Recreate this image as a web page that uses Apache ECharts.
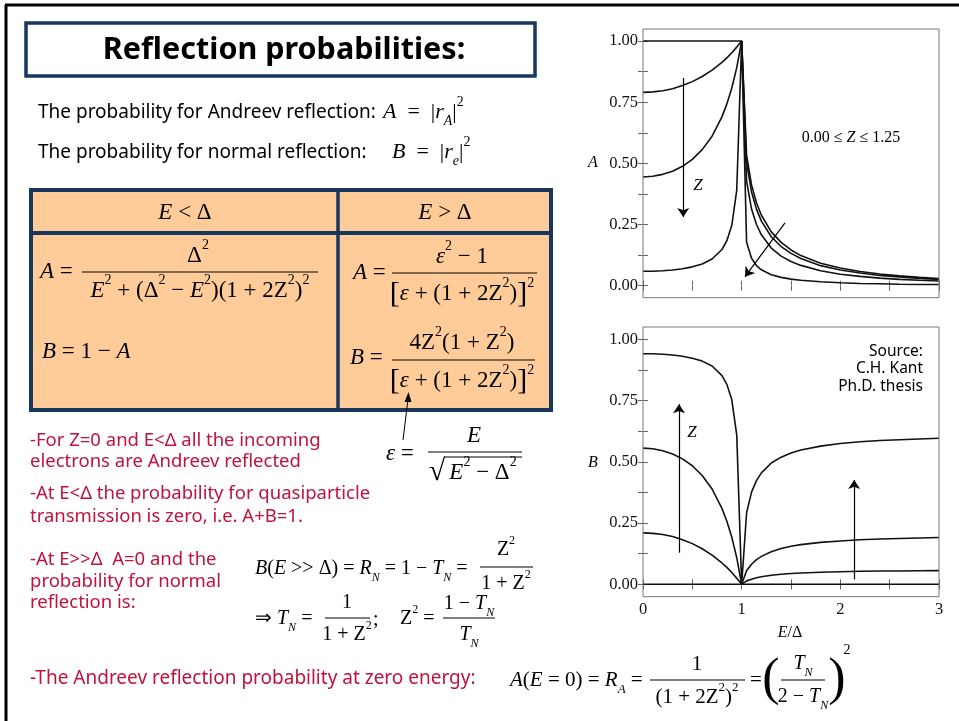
<!DOCTYPE html>
<html><head><meta charset="utf-8">
<script src="https://cdn.jsdelivr.net/npm/echarts@6/dist/echarts.min.js"></script>
<style>html,body{margin:0;padding:0;background:#fff}#c{width:959px;height:721px}</style>
</head><body><div id="c"></div>
<script>
// ---- data ----
const E_RATIO = [0,0.1,0.2,0.3,0.4,0.5,0.6,0.7,0.8,0.85,0.9,0.95,1.0,1.05,1.1,1.15,1.2,1.3,1.4,1.5,1.6,1.8,2.0,2.2,2.4,2.6,2.8,3.0];
const Z_VALUES = ['0.00','0.25','0.50','1.25'];
const A_Z000 = [1,1,1,1,1,1,1,1,1,1,1,1,1,0.533,0.412,0.339,0.288,0.220,0.177,0.146,0.123,0.092,0.072,0.058,0.048,0.040,0.034,0.029];
const A_Z025 = [0.790,0.792,0.797,0.805,0.818,0.834,0.855,0.881,0.913,0.931,0.952,0.975,1,0.503,0.383,0.313,0.264,0.200,0.160,0.132,0.111,0.082,0.064,0.052,0.042,0.036,0.030,0.026];
const A_Z050 = [0.444,0.447,0.455,0.468,0.488,0.516,0.556,0.611,0.690,0.743,0.808,0.891,1,0.427,0.313,0.250,0.208,0.154,0.121,0.099,0.083,0.061,0.047,0.038,0.031,0.026,0.022,0.019];
const A_Z125 = [0.059,0.059,0.061,0.064,0.069,0.077,0.089,0.109,0.148,0.184,0.247,0.390,1,0.178,0.112,0.082,0.065,0.045,0.034,0.027,0.022,0.016,0.012,0.009,0.008,0.006,0.005,0.005];
const B_Z000 = [0,0,0,0,0,0,0,0,0,0,0,0,0,0,0,0,0,0,0,0,0,0,0,0,0,0,0,0];
const B_Z025 = [0.210,0.208,0.203,0.195,0.182,0.166,0.145,0.119,0.087,0.069,0.048,0.025,0,0.014,0.021,0.027,0.031,0.037,0.041,0.044,0.046,0.049,0.051,0.053,0.054,0.054,0.055,0.056];
const B_Z050 = [0.556,0.553,0.545,0.532,0.512,0.484,0.444,0.389,0.310,0.257,0.192,0.109,0,0.055,0.082,0.101,0.114,0.133,0.146,0.155,0.162,0.171,0.177,0.182,0.185,0.187,0.189,0.191];
const B_Z125 = [0.941,0.941,0.939,0.936,0.931,0.923,0.911,0.891,0.852,0.816,0.753,0.610,0,0.292,0.376,0.423,0.455,0.495,0.519,0.536,0.548,0.564,0.575,0.582,0.587,0.590,0.593,0.596];
const X_TICKS = [0,1,2,3];
const Y_TICKS = [0,0.25,0.5,0.75,1];
// annotation arrows (data coordinates)
const ARROWS_A = [[[0.408,0.849],[0.408,0.281]],[[1.439,0.257],[1.034,0.037]]];
const ARROWS_B = [[[0.365,0.129],[0.365,0.735]],[[2.14,0.02],[2.14,0.426]]];

const SERIF = "'Liberation Serif','Times New Roman',serif";
const SANS = "'Noto Sans','DejaVu Sans',sans-serif";
const RED = '#C0123C';
const NAVY = '#17375E';

function rich(s){
  const lh = Math.round(s*1.5), sm = Math.round(s*0.62);
  return {
    i:{fontFamily:SERIF,fontSize:s,fontStyle:'italic',lineHeight:lh,fill:'#000'},
    r:{fontFamily:SERIF,fontSize:s,lineHeight:lh,fill:'#000'},
    p:{fontFamily:SERIF,fontSize:sm,lineHeight:Math.round(sm*1.55),verticalAlign:'top',fill:'#000'},
    b:{fontFamily:SERIF,fontSize:sm,fontStyle:'italic',lineHeight:Math.round(sm*1.6),verticalAlign:'bottom',fill:'#000'},
    k:{fontFamily:SERIF,fontSize:Math.round(s*1.3),lineHeight:lh,fill:'#000'}
  };
}
const G = [];
function txt(x,y,text,o){ G.push({type:'text',x:x,y:y,z:10,style:Object.assign({legacy:false,text:text,fill:'#000',align:'left',verticalAlign:'middle',fontFamily:SANS,fontSize:16},o||{})}); }
function mt(x,y,str,size,align){ G.push({type:'text',x:x,y:y,z:10,style:{legacy:false,text:str,rich:rich(size),align:align||'left',verticalAlign:'middle',fontFamily:SERIF,fontSize:size,fill:'#000'}}); }
function ln(x1,y1,x2,y2,w,c){ G.push({type:'line',z:10,shape:{x1:x1,y1:y1,x2:x2,y2:y2},style:{stroke:c||'#000',lineWidth:w||1}}); }
function rect(x,y,w,h,st){ G.push({type:'rect',z:5,shape:{x:x,y:y,width:w,height:h},style:st}); }

// slide border
ln(5,5,959,5,3); ln(6,5,6,721,3);
// title
rect(26,23,509,53,{fill:'#fff',stroke:NAVY,lineWidth:3.5});
txt(284,50,'Reflection probabilities:',{align:'center',fontSize:30.5,fontWeight:'bold'});
// definitions
txt(38,113,'The probability for Andreev reflection:',{fontSize:19});
mt(383,112,'{i|A}{r|  =  |}{i|r}{b|A}{r||}{p|2}',22);
txt(38,153,'The probability for normal reflection:',{fontSize:19});
mt(392,152,'{i|B}{r|  =  |}{i|r}{b|e}{r||}{p|2}',22);
// table
rect(31,190,520,220,{fill:'#FFCC99',stroke:NAVY,lineWidth:4});
G.push({type:'line',z:6,shape:{x1:31,y1:233,x2:551,y2:233},style:{stroke:NAVY,lineWidth:4}});
G.push({type:'line',z:6,shape:{x1:338,y1:190,x2:338,y2:410},style:{stroke:NAVY,lineWidth:3.5}});
mt(185,213,'{i|E}{r| < Δ}',23,'center');
mt(445,213,'{i|E}{r| > Δ}',23,'center');
mt(40,272,'{i|A}{r| =}',23);
ln(82,272,318,272,1);
mt(198,256,'{r|Δ}{p|2}',23,'center');
mt(200,291,'{i|E}{p|2}{r| + (Δ}{p|2}{r| − }{i|E}{p|2}{r|)(1 + 2Z}{p|2}{r|)}{p|2}',23,'center');
mt(42,352,'{i|B}{r| = 1 − }{i|A}',23);
mt(353,273,'{i|A}{r| =}',23);
ln(392,273,537,273,1);
mt(462,257,'{i|ε}{p|2}{r| − 1}',23,'center');
mt(462,294,'{k|[}{i|ε}{r| + (1 + 2Z}{p|2}{r|)}{k|]}{p|2}',23,'center');
mt(350,358,'{i|B}{r| =}',23);
ln(392,360,535,360,1);
mt(462,343,'{r|4Z}{p|2}{r|(1 + Z}{p|2}{r|)}',23,'center');
mt(462,381,'{k|[}{i|ε}{r| + (1 + 2Z}{p|2}{r|)}{k|]}{p|2}',23,'center');
// epsilon definition and arrow
ln(403,440,408,399,1);
G.push({type:'polygon',z:10,shape:{points:[[408.5,392],[404.5,402],[411.5,402]]},style:{fill:'#000'}});
mt(386,454,'{i|ε}{r| =}',23);
ln(428,452,522,452,1);
mt(474,436,'{i|E}',23,'center');
mt(437,472,'{k|√}',23,'center');
ln(445,457,522,457,1);
mt(483,473,'{i|E}{p|2}{r| − Δ}{p|2}',23,'center');
// red remarks
const red = {fill:RED,fontSize:18.5};
txt(30,441,'-For Z=0 and E<Δ all the incoming',red);
txt(30,462,'electrons are Andreev reflected',red);
txt(30,494,'-At E<Δ the probability for quasiparticle',red);
txt(30,517,'transmission is zero, i.e. A+B=1.',red);
txt(30,560,'-At E>>Δ  A=0 and the',red);
txt(30,582,'probability for normal',red);
txt(30,603,'reflection is:',red);
txt(30,679,'-The Andreev reflection probability at zero energy:',{fill:RED,fontSize:19});
// B(E>>Δ) formulas
mt(255,569,'{i|B}{r|(}{i|E}{r| >> Δ) = }{i|R}{b|N}{r| = 1 − }{i|T}{b|N}{r| =}',20);
ln(480,567,533,567,1);
mt(506,550,'{r|Z}{p|2}',20,'center');
mt(506,584,'{r|1 + Z}{p|2}',20,'center');
mt(255,619,'{r|⇒ }{i|T}{b|N}{r| =}',20);
ln(325,618,370,618,1);
mt(347,603,'{r|1}',20,'center');
mt(347,635,'{r|1 + Z}{p|2}',20,'center');
mt(373,620,'{r|;}',20);
mt(400,619,'{r|Z}{p|2}{r| =}',20);
ln(443,618,495,618,1);
mt(469,604,'{r|1 − }{i|T}{b|N}',20,'center');
mt(469,635,'{i|T}{b|N}',20,'center');
// A(E=0)
mt(510,680,'{i|A}{r|(}{i|E}{r| = 0) = }{i|R}{b|A}{r| =}',21);
ln(650,680,745,680,1);
mt(697,664,'{r|1}',21,'center');
mt(697,697,'{r|(1 + 2Z}{p|2}{r|)}{p|2}',21,'center');
mt(750,680,'{r|=}',21);
txt(771,680,'(',{fontFamily:SERIF,fontSize:52,align:'center'});
ln(781,680,825,680,1);
mt(803,664,'{i|T}{b|N}',20,'center');
mt(803,697,'{r|2 − }{i|T}{b|N}',20,'center');
txt(837,680,')',{fontFamily:SERIF,fontSize:52,align:'center'});
txt(847,650,'2',{fontFamily:SERIF,fontSize:14,align:'center'});
// chart frames & annotations
rect(643,29,296,268.7,{fill:'none',stroke:'#777',lineWidth:1});
rect(643,327,296,269.7,{fill:'none',stroke:'#777',lineWidth:1});
mt(851,138,'{r|0.00 ≤ }{i|Z}{r| ≤ 1.25}',16,'center');
mt(698,186,'{i|Z}',17,'center');
mt(692,433,'{i|Z}',17,'center');
txt(923,352,'Source:',{align:'right',fontSize:15.5});
txt(923,369,'C.H. Kant',{align:'right',fontSize:15.5});
txt(923,387,'Ph.D. thesis',{align:'right',fontSize:15.5});
mt(593,163,'{i|A}',16,'center');
mt(593,463,'{i|B}',16,'center');
mt(790,633,'{i|E}{r|/Δ}',16,'center');

const tickStyle = {inside:true,length:5,lineStyle:{color:'#666',width:1}};
function xAx(g,pos,labels){
  return {gridIndex:g,type:'value',min:X_TICKS[0],max:X_TICKS[X_TICKS.length-1],interval:1,position:pos,offset:12,
    axisLine:{show:false},axisTick:tickStyle,minorTick:{show:true,splitNumber:2,length:5,lineStyle:{color:'#666'}},
    splitLine:{show:false},minorSplitLine:{show:false},
    axisLabel:{show:labels,fontFamily:SERIF,fontSize:16.5,color:'#111',margin:5,formatter:v=>String(v)}};
}
function yAx(g,pos,labels){
  return {gridIndex:g,type:'value',min:Y_TICKS[0],max:Y_TICKS[Y_TICKS.length-1],interval:0.25,position:pos,
    axisLine:{show:false},axisTick:tickStyle,minorTick:{show:true,splitNumber:2,length:5,lineStyle:{color:'#666'}},
    splitLine:{show:false},minorSplitLine:{show:false},
    axisLabel:{show:labels,fontFamily:SERIF,fontSize:16.5,color:'#111',margin:5,formatter:v=>v.toFixed(2)}};
}
function pairs(vals){ return E_RATIO.map((e,i)=>[e,vals[i]]); }
function ser(g,vals,name,arrows){
  const s = {type:'line',name:name,xAxisIndex:g*2,yAxisIndex:g*2,data:pairs(vals),showSymbol:false,symbol:'none',clip:false,
    lineStyle:{color:'#111',width:1.6},silent:true};
  if(arrows){
    s.markLine = {silent:true,symbol:['none','arrow'],symbolSize:9,label:{show:false},
      lineStyle:{color:'#000',width:1.2,type:'solid'},
      data:arrows.map(a=>[{coord:a[0]},{coord:a[1]}])};
  }
  return s;
}
const chart = echarts.init(document.getElementById('c'),null,{renderer:'canvas'});
chart.setOption({
  animation:false,
  backgroundColor:'#fff',
  grid:[{left:643,top:41,width:296,height:244.7},{left:643,top:339.3,width:296,height:245}],
  xAxis:[xAx(0,'bottom',false),xAx(0,'top',false),xAx(1,'bottom',true),xAx(1,'top',false)],
  yAxis:[yAx(0,'left',true),yAx(0,'right',false),yAx(1,'left',true),yAx(1,'right',false)],
  series:[
    ser(0,A_Z000,'A Z='+Z_VALUES[0],ARROWS_A),ser(0,A_Z025,'A Z='+Z_VALUES[1]),ser(0,A_Z050,'A Z='+Z_VALUES[2]),ser(0,A_Z125,'A Z='+Z_VALUES[3]),
    ser(1,B_Z000,'B Z='+Z_VALUES[0],ARROWS_B),ser(1,B_Z025,'B Z='+Z_VALUES[1]),ser(1,B_Z050,'B Z='+Z_VALUES[2]),ser(1,B_Z125,'B Z='+Z_VALUES[3])
  ],
  graphic:{elements:G}
});
</script></body></html>
